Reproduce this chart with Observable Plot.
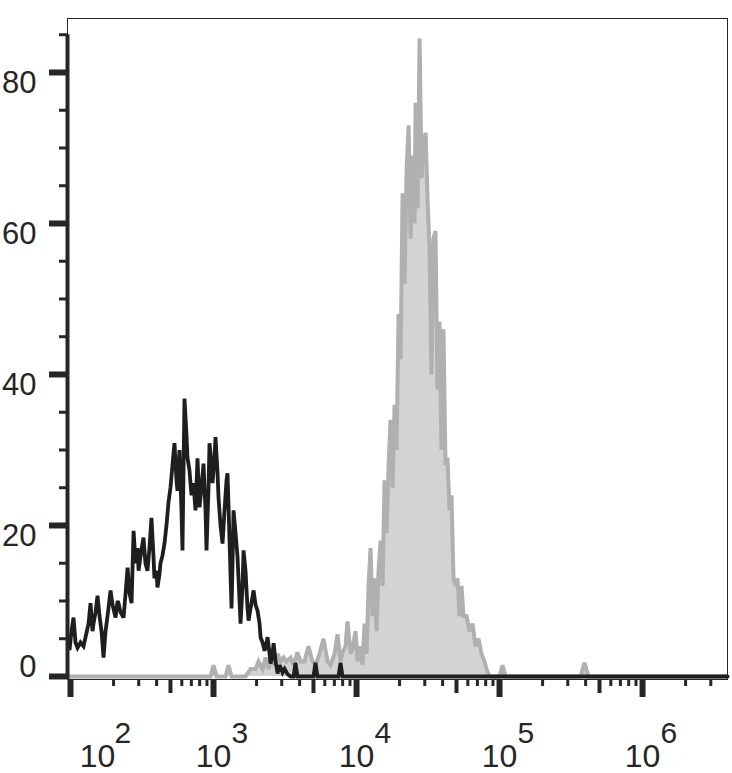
<!DOCTYPE html>
<html>
<head>
<meta charset="utf-8">
<script src="https://cdn.jsdelivr.net/npm/d3@7"></script>
<script src="https://cdn.jsdelivr.net/npm/@observablehq/plot@0.6"></script>
<style>
  html, body { margin: 0; padding: 0; background: #fff; }
  #chart { width: 732px; height: 773px; }
</style>
</head>
<body>
<div id="chart"></div>
<script>
// ---- Data (log10 of fluorescence intensity, event count) ----
const blackLog = [1.979,1.993,2.007,2.021,2.035,2.049,2.070,2.091,2.105,2.126,2.140,2.154,2.161,2.175,2.189,2.203,2.217,2.231,2.245,2.259,2.280,2.294,2.315,2.329,2.336,2.350,2.371,2.385,2.399,2.413,2.427,2.441,2.455,2.469,2.476,2.490,2.510,2.524,2.538,2.552,2.566,2.580,2.587,2.601,2.608,2.622,2.629,2.643,2.657,2.671,2.685,2.699,2.713,2.727,2.741,2.748,2.762,2.776,2.783,2.790,2.797,2.811,2.818,2.832,2.846,2.860,2.874,2.888,2.902,2.916,2.930,2.944,2.951,2.965,2.972,2.986,2.993,3.007,3.014,3.028,3.035,3.049,3.063,3.077,3.091,3.098,3.112,3.126,3.133,3.140,3.154,3.168,3.182,3.189,3.203,3.210,3.224,3.231,3.238,3.245,3.259,3.280,3.294,3.308,3.322,3.329,3.343,3.357,3.371,3.378,3.392,3.399,3.413,3.420,3.434,3.448,3.462,3.469,3.483,3.497,3.518,3.539,3.560,3.573,3.587,3.699,3.713,3.727,3.874,3.888,3.902,6.594];
const blackCount = [5,3.5,6,7.8,4.5,3.8,4.5,4,5.2,7,9.7,6,7,8.5,10.7,8,6,2.5,6,8,11.4,9.5,7.8,10,9.7,8.5,7.8,11,14.4,11,9.7,19.3,15,17,14,16,18.4,15,14,17,21,16,13,14,11.8,13.5,15,16,17.6,20,23,25,28,30.9,26,24.6,30,22,16.7,27,36.8,32,29,27.3,24,25.6,22,28.9,22.4,25,28.2,22,16.7,25,30.9,28,25.6,29,31.7,27,23.7,20,17.6,22,26,26.9,18,9,15,22,19,15.8,10,7,12,16.7,14,11.4,9,7.4,9,11.4,9.5,8.7,7,5.2,4.5,3.4,4.5,5.2,3,1.7,3,4.4,2,0.4,1.5,1.2,0.5,1,0.3,0,0,1.8,0,0,1.8,0,0,1.8,0,0];

const grayLog = [1.979,2.979,3.000,3.021,3.084,3.105,3.126,3.224,3.259,3.294,3.315,3.343,3.364,3.385,3.406,3.427,3.448,3.469,3.490,3.510,3.539,3.560,3.587,3.608,3.636,3.664,3.692,3.713,3.741,3.769,3.797,3.818,3.846,3.867,3.888,3.902,3.923,3.937,3.958,3.972,3.993,4.007,4.028,4.042,4.056,4.070,4.084,4.098,4.112,4.126,4.140,4.154,4.168,4.182,4.196,4.210,4.224,4.238,4.252,4.266,4.280,4.294,4.308,4.322,4.336,4.350,4.364,4.378,4.392,4.406,4.413,4.427,4.441,4.455,4.469,4.483,4.497,4.510,4.524,4.538,4.552,4.566,4.580,4.594,4.608,4.622,4.636,4.650,4.664,4.678,4.692,4.706,4.720,4.734,4.748,4.769,4.790,4.811,4.832,4.853,4.874,4.895,4.916,4.937,5.000,5.021,5.042,5.566,5.594,5.622,6.594];
const grayCount = [0,0,1.5,0,0,1.5,0,0,1,1,2,1,2.5,1,2.5,1.5,3,2,2.5,2,2.5,1.5,3.2,2,2,4,2,1.5,3,5,2,1.5,3,5.6,2,3.2,4,7.3,3,3.7,6,2,4,1.5,7,3,12,17,8,13,6,14,18,12,26,19,28,34,25,36,30,48,42,64,52,67,73,58,69,60,76,62,84.5,66,71,72,63,57,40,58,59,38,47,30,46,28,29,22,24,13,12,13,8,12,8,8,6,7,4,5,3,2,0.5,0,0,1.5,0,0,1.8,0,0];

const yMajor = [0, 20, 40, 60, 80];
const yMinor = [5, 10, 15, 25, 30, 35, 45, 50, 55, 65, 70, 75, 85];
const xDecades = [2, 3, 4, 5, 6];
const xMinorMult = [2, 3, 4, 6, 7, 8, 9];
const xMidMult = [5];

// ---- Build tables ----
const black = blackLog.map((e, i) => ({x: 10 ** e, y: blackCount[i]}));
const gray = grayLog.map((e, i) => ({x: 10 ** e, y: grayCount[i]}));
const xMin = 10 ** 1.979, xMax = 10 ** 6.594;
const xMajorTicks = xDecades.map(e => 10 ** e);
const xMidTicks = [1, 2, 3, 4, 5, 6].flatMap(e => xMidMult.map(m => m * 10 ** e)).filter(v => v >= xMin && v <= xMax);
const xMinorTicks = [1, 2, 3, 4, 5, 6].flatMap(e => xMinorMult.map(m => m * 10 ** e)).filter(v => v >= xMin && v <= xMax);
const labels = xDecades.map(e => ({x: 10 ** e, sup: String(e)}));

const ink = "#262626";
const font = "'Liberation Sans', Arial, Helvetica, sans-serif";

const chart = Plot.plot({
  width: 732,
  height: 773,
  marginLeft: 67,
  marginRight: 5,
  marginTop: 18,
  marginBottom: 94,
  style: {background: "#fff", fontFamily: font, color: ink},
  x: {type: "log", domain: [xMin, xMax], axis: null},
  y: {domain: [-0.4, 87.15], axis: null},
  marks: [
    // gray filled histogram
    Plot.areaY(gray, {x: "x", y: "y", fill: "#d3d3d3", curve: "linear"}),
    Plot.lineY(gray, {x: "x", y: "y", stroke: "#b0b0b0", strokeWidth: 4, strokeLinejoin: "miter", strokeMiterlimit: 3, curve: "linear"}),
    // black open histogram
    Plot.lineY(black, {x: "x", y: "y", stroke: "#1e1e1e", strokeWidth: 3.8, strokeLinejoin: "miter", strokeMiterlimit: 3, curve: "linear"}),
    // thin frame
    Plot.frame({stroke: ink, strokeWidth: 1}),
    // thick y axis line
    Plot.ruleX([xMin], {y1: 85, y2: -0.4, stroke: ink, strokeWidth: 4}),
    // y ticks
    Plot.axisY(yMajor, {anchor: "left", tickSize: 18, strokeWidth: 6, stroke: ink, text: null, label: null}),
    Plot.axisY(yMinor, {anchor: "left", tickSize: 8, strokeWidth: 3, stroke: ink, text: null, label: null}),
    // x ticks
    Plot.axisX(xMajorTicks, {anchor: "bottom", tickSize: 18, strokeWidth: 6, stroke: ink, text: null, label: null}),
    Plot.axisX(xMidTicks, {anchor: "bottom", tickSize: 14, strokeWidth: 4, stroke: ink, text: null, label: null}),
    Plot.axisX(xMinorTicks, {anchor: "bottom", tickSize: 7, strokeWidth: 3, stroke: ink, text: null, label: null}),
    // y labels
    Plot.text(yMajor.filter(d => d !== 0), {y: d => d, frameAnchor: "left", text: d => String(d), textAnchor: "end", lineAnchor: "middle", dx: -31, dy: 11, fontSize: 31, fill: ink}),
    Plot.text(yMajor.filter(d => d === 0), {y: d => d, frameAnchor: "left", text: d => String(d), textAnchor: "end", lineAnchor: "middle", dx: -31, dy: -9, fontSize: 31, fill: ink}),
    // x labels: 10 with superscript exponent
    Plot.text(labels.slice(1), {x: "x", frameAnchor: "bottom", text: () => "10", textAnchor: "middle", lineAnchor: "bottom", dy: 87, fontSize: 32, fill: ink}),
    Plot.text(labels.slice(1), {x: "x", frameAnchor: "bottom", text: "sup", textAnchor: "start", lineAnchor: "bottom", dx: 18, dy: 63, fontSize: 30, fill: ink}),
    Plot.text(labels.slice(0, 1), {x: "x", frameAnchor: "bottom", text: () => "10", textAnchor: "middle", lineAnchor: "bottom", dx: 27, dy: 87, fontSize: 32, fill: ink}),
    Plot.text(labels.slice(0, 1), {x: "x", frameAnchor: "bottom", text: "sup", textAnchor: "start", lineAnchor: "bottom", dx: 44, dy: 63, fontSize: 30, fill: ink})
  ]
});
document.getElementById("chart").appendChild(chart);
</script>
</body>
</html>
